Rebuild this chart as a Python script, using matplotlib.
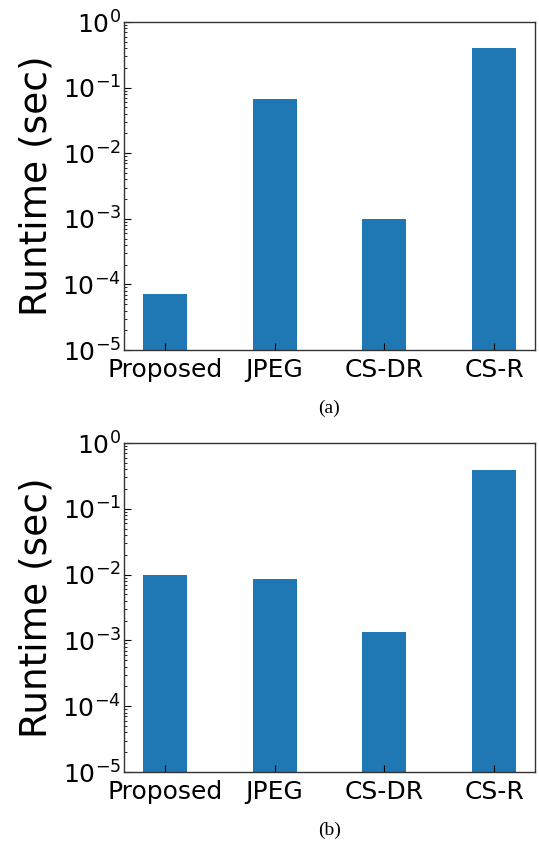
import matplotlib
matplotlib.use("Agg")
import matplotlib.pyplot as plt
import numpy as np

plt.rcParams["font.family"] = ["DejaVu Sans"]
plt.rcParams["mathtext.fontset"] = "dejavusans"

methods = ["Proposed", "JPEG", "CS-DR", "CS-R"]
runtime_a = [7.1e-5, 6.8e-2, 1.0e-3, 4.0e-1]
runtime_b = [1.0e-2, 8.5e-3, 1.33e-3, 3.9e-1]
captions = ["(a)", "(b)"]

fig = plt.figure(figsize=(5.39, 8.41), dpi=100)
ax_a = fig.add_axes([0.230, 0.5838, 0.7626, 0.39])
ax_b = fig.add_axes([0.230, 0.0820, 0.7626, 0.3912])

x = np.arange(len(methods))
for ax, vals, cap in zip([ax_a, ax_b], [runtime_a, runtime_b], captions):
    ax.bar(x, vals, width=0.4, color="#1f77b4")
    ax.set_yscale("log")
    ax.set_ylim(1e-5, 1e0)
    ax.set_xticks(x)
    ax.set_xticklabels(methods)
    ax.set_yticks([1e-5, 1e-4, 1e-3, 1e-2, 1e-1, 1e0])
    ax.tick_params(axis="both", which="both", direction="in", labelsize=18)
    ax.tick_params(axis="y", which="major", length=5, pad=2)
    ax.tick_params(axis="y", which="minor", length=2.5)
    ax.tick_params(axis="x", length=5, pad=6)
    ax.set_ylabel("Runtime (sec)", fontsize=27, labelpad=6)
    for s in ax.spines.values():
        s.set_color("#333333")
        s.set_linewidth(1.0)
    ax.text(0.5, -0.15, cap, transform=ax.transAxes, ha="center", va="top",
            fontsize=14, family="Liberation Serif")

fig.savefig("out.png", dpi=100)
